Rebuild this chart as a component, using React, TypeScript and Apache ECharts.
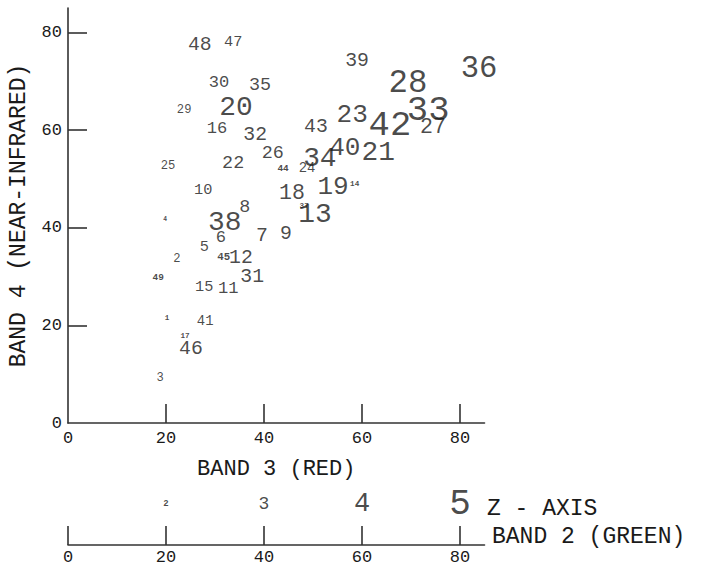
import React, { useEffect, useRef } from "react";
import * as echarts from "echarts";

// Point identifiers (1..49) and their band values
const pointIds = [
  "1","2","3","4","5","6","7","8","9","10",
  "11","12","13","14","15","16","17","18","19","20",
  "21","22","23","24","25","26","27","28","29","30",
  "31","32","33","34","35","36","37","38","39","40",
  "41","42","43","44","45","46","47","48","49",
];
// Band 3 (red) – x axis
const band3 = [
  20.2, 22.2, 18.8, 19.8, 27.8, 31.2, 39.6, 36.1, 44.5, 27.6,
  32.7, 35.3, 50.4, 58.5, 27.8, 30.4, 23.9, 45.7, 54.1, 34.3,
  63.3, 33.7, 58.0, 48.8, 20.4, 41.8, 74.5, 69.4, 23.7, 30.8,
  37.6, 38.2, 73.5, 51.4, 39.2, 83.9, 48.2, 32.0, 59.0, 56.5,
  28.0, 65.7, 50.6, 43.9, 31.8, 25.1, 33.7, 26.9, 18.4,
];
// Band 4 (near-infrared) – y axis
const band4 = [
  21.5, 33.6, 9.2, 41.6, 36.0, 37.9, 38.3, 44.2, 38.7, 47.7,
  27.6, 33.8, 42.8, 48.9, 27.8, 60.4, 17.8, 47.1, 48.3, 64.7,
  55.5, 53.2, 63.0, 52.2, 52.6, 55.1, 60.6, 69.6, 64.1, 69.8,
  29.9, 59.0, 64.1, 54.2, 69.2, 72.5, 44.4, 41.1, 74.1, 56.3,
  20.9, 61.0, 60.6, 52.2, 34.0, 15.1, 78.0, 77.4, 29.7,
];
// Band 2 (green) – z axis, shown as character size
const band2 = [
  17, 27, 27, 14, 34, 38, 44, 41, 44, 34,
  38, 44, 62, 17, 34, 38, 17, 48, 58, 62,
  62, 41, 58, 31, 27, 41, 48, 72, 27, 38,
  44, 44, 79, 62, 41, 68, 17, 62, 44, 58,
  31, 79, 44, 21, 24, 44, 34, 44, 21,
];

const axisTickValues = [0, 20, 40, 60, 80];
const innerTickValues = [20, 40, 60, 80];
const zLegendValues = [20, 40, 60, 80];
const zLegendLabels = ["2", "3", "4", "5"];

const FONT = "'Liberation Mono', 'DejaVu Sans Mono', monospace";
const INK = "#1a1a1a";
const sizeOf = (z: number) => 0.45 * z;
const weightOf = (z: number) => (sizeOf(z) < 12 ? "bold" : "normal");

export default function App() {
  const ref = useRef<HTMLDivElement>(null);

  useEffect(() => {
    if (!ref.current) return;
    const chart = echarts.init(ref.current, undefined, { renderer: "svg" });

    const points = pointIds.map((id, i) => ({
      name: id,
      value: [band3[i], band4[i], band2[i]],
      label: { fontSize: sizeOf(band2[i]), fontWeight: weightOf(band2[i]) },
    }));
    const legendPoints = zLegendLabels.map((t, i) => ({
      name: t,
      value: [zLegendValues[i], 0.85],
      label: { fontSize: sizeOf(zLegendValues[i]), fontWeight: weightOf(zLegendValues[i]) },
    }));

    const axisLineStyle = { color: "#333", width: 1.6 };
    const labelFmt = (v: number) => (v % 20 === 0 ? String(v) : "");

    chart.setOption({
      animation: false,
      backgroundColor: "#fff",
      grid: [
        { left: 68, top: 8, width: 416.5, height: 415, outerBoundsMode: "none" },
        { left: 68, top: 497, width: 416.5, height: 48, outerBoundsMode: "none" },
      ],
      xAxis: [
        {
          gridIndex: 0,
          type: "value",
          min: 0,
          max: 85,
          interval: 20,
          name: "BAND 3 (RED)",
          nameLocation: "middle",
          nameGap: 35,
          nameTextStyle: { fontFamily: FONT, fontSize: 22, color: INK },
          axisLine: { show: true, onZero: false, lineStyle: axisLineStyle },
          axisTick: { show: true, inside: true, length: 19, customValues: innerTickValues, lineStyle: axisLineStyle },
          axisLabel: { customValues: axisTickValues, formatter: labelFmt, fontFamily: FONT, fontSize: 17, color: INK, margin: 7 },
          splitLine: { show: false },
        },
        {
          gridIndex: 1,
          type: "value",
          min: 0,
          max: 85,
          interval: 20,
          axisLine: { show: true, onZero: false, lineStyle: axisLineStyle },
          axisTick: { show: true, inside: true, length: 19, customValues: axisTickValues, lineStyle: axisLineStyle },
          axisLabel: { customValues: axisTickValues, formatter: labelFmt, fontFamily: FONT, fontSize: 17, color: INK, margin: 4 },
          splitLine: { show: false },
        },
      ],
      yAxis: [
        {
          gridIndex: 0,
          type: "value",
          min: 0,
          max: 85,
          interval: 20,
          name: "BAND 4 (NEAR-INFRARED)",
          nameLocation: "middle",
          nameGap: 32,
          nameRotate: 90,
          nameTextStyle: { fontFamily: FONT, fontSize: 23, color: INK },
          axisLine: { show: true, onZero: false, lineStyle: axisLineStyle },
          axisTick: { show: true, inside: true, length: 19, customValues: innerTickValues, lineStyle: axisLineStyle },
          axisLabel: { customValues: axisTickValues, formatter: labelFmt, fontFamily: FONT, fontSize: 17, color: INK, margin: 6 },
          splitLine: { show: false },
        },
        {
          gridIndex: 1,
          type: "value",
          min: 0,
          max: 1,
          show: false,
        },
      ],
      series: [
        {
          type: "scatter",
          xAxisIndex: 0,
          yAxisIndex: 0,
          symbol: "circle",
          symbolSize: 1,
          itemStyle: { color: "rgba(0,0,0,0)" },
          label: {
            show: true,
            position: "inside",
            formatter: "{b}",
            fontFamily: FONT,
            color: INK,
          },
          data: points,
        },
        {
          type: "scatter",
          xAxisIndex: 1,
          yAxisIndex: 1,
          symbol: "circle",
          symbolSize: 1,
          itemStyle: { color: "rgba(0,0,0,0)" },
          label: {
            show: true,
            position: "inside",
            formatter: "{b}",
            fontFamily: FONT,
            color: INK,
          },
          data: legendPoints,
        },
      ],
      graphic: [
        {
          type: "text",
          left: 487,
          top: 497,
          style: { text: "Z - AXIS", fontFamily: FONT, fontSize: 23, fill: INK },
        },
        {
          type: "text",
          left: 492,
          top: 525,
          style: { text: "BAND 2 (GREEN)", fontFamily: FONT, fontSize: 23, fill: INK },
        },
      ],
    });

    return () => chart.dispose();
  }, []);

  return (
    <div
      ref={ref}
      style={{ position: "absolute", left: 0, top: 0, width: 705, height: 569, background: "#fff" }}
    />
  );
}
